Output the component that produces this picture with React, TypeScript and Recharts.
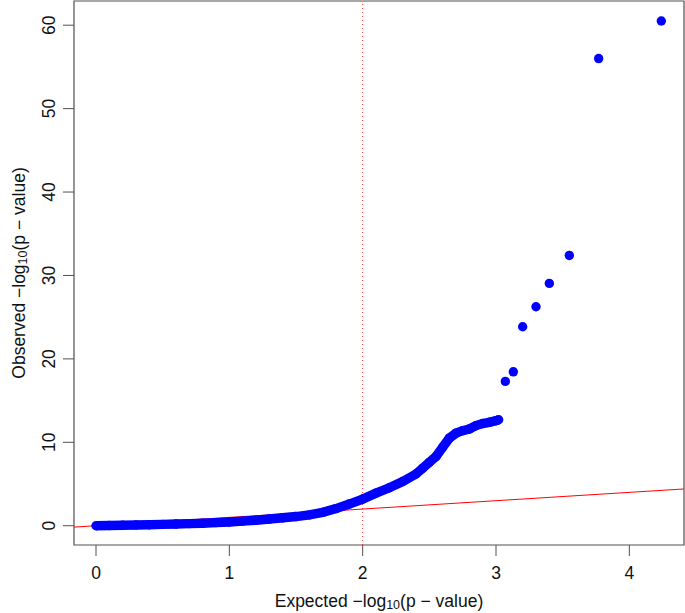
import React from 'react';
import { ScatterChart, Scatter, XAxis, YAxis, ReferenceLine, ReferenceArea } from 'recharts';

// dense run of points (overlapping dots)
const bandExpected = [0, 0.1, 0.2, 0.3, 0.4, 0.5, 0.6, 0.7, 0.8, 0.9, 1.0, 1.1, 1.2, 1.3, 1.4, 1.5, 1.6, 1.7, 1.8, 1.9, 2.0, 2.1, 2.2, 2.3, 2.4, 2.45, 2.5, 2.55, 2.6, 2.65, 2.7, 2.75, 2.8, 2.85, 2.9, 2.95, 3.0, 3.02];
const bandObserved = [0, 0.03, 0.06, 0.09, 0.12, 0.16, 0.2, 0.25, 0.3, 0.37, 0.45, 0.55, 0.66, 0.8, 0.95, 1.1, 1.3, 1.6, 2.05, 2.6, 3.2, 3.9, 4.55, 5.3, 6.2, 6.9, 7.6, 8.3, 9.4, 10.5, 11.1, 11.4, 11.6, 12.0, 12.25, 12.4, 12.6, 12.7];

// separate points in the upper tail
const tailExpected = [3.07, 3.13, 3.2, 3.3, 3.4, 3.55, 3.77, 4.24];
const tailObserved = [17.3, 18.45, 23.85, 26.25, 29.05, 32.4, 56.0, 60.5];

const xTicks = [0, 1, 2, 3, 4];
const yTicks = [0, 10, 20, 30, 40, 50, 60];

const X_DOMAIN: [number, number] = [-0.165, 4.41];
const Y_DOMAIN: [number, number] = [-2.31, 62.9];

const bandData = bandExpected.map((x, i) => ({ x, y: bandObserved[i] }));
const tailData = tailExpected.map((x, i) => ({ x, y: tailObserved[i] }));

const FONT = '"Liberation Sans", Arial, Helvetica, sans-serif';
const AXIS = '#505050';
const BLUE = '#0000ff';

const Dot = (p: any) => <circle cx={p.cx} cy={p.cy} r={4.7} fill={BLUE} />;

const XTick = (p: any) => (
  <text x={p.x} y={579} textAnchor="middle" fontSize={17.5} fontFamily={FONT} fill="#111">
    {p.payload.value}
  </text>
);

const YTick = (p: any) => (
  <text x={55} y={p.y} transform={`rotate(-90, 55, ${p.y})`} textAnchor="middle" fontSize={17.5} fontFamily={FONT} fill="#111">
    {p.payload.value}
  </text>
);

const AxisTitle = ({ x, y, rotate, word }: { x: number; y: number; rotate?: boolean; word: string }) => (
  <text x={x} y={y} transform={rotate ? `rotate(-90, ${x}, ${y})` : undefined} textAnchor="middle" fontSize={17.5} fontFamily={FONT} fill="#111">
    {word} {'\u2212'}log
    <tspan fontSize={12.5} dy={2}>10</tspan>
    <tspan dy={-2}>(p {'\u2212'} value)</tspan>
  </text>
);

export default function App() {
  return (
    <div style={{ position: 'absolute', left: 0, top: 0, width: 685, height: 613, background: '#fff' }}>
      <ScatterChart width={685} height={613} margin={{ top: 1, right: 1, bottom: 0, left: 0 }}>
        <XAxis
          type="number"
          dataKey="x"
          domain={X_DOMAIN}
          allowDataOverflow
          ticks={xTicks}
          height={68}
          tickSize={11}
          axisLine={false}
          tickLine={{ stroke: AXIS }}
          tick={<XTick />}
          label={{ content: (props: any) => <AxisTitle x={props.viewBox.x + props.viewBox.width / 2} y={607} word="Expected" /> }}
        />
        <YAxis
          type="number"
          dataKey="y"
          domain={Y_DOMAIN}
          allowDataOverflow
          ticks={yTicks}
          width={74}
          tickSize={11}
          axisLine={false}
          tickLine={{ stroke: AXIS }}
          tick={<YTick />}
          label={{ content: (props: any) => <AxisTitle x={25} y={props.viewBox.y + props.viewBox.height / 2} rotate word="Observed" /> }}
        />
        <ReferenceLine x={2} stroke="#ff3030" strokeWidth={1} strokeDasharray="1 3" />
        <Scatter data={bandData} shape={<Dot />} line={{ stroke: BLUE, strokeWidth: 9.4 }} lineJointType="linear" isAnimationActive={false} />
        <Scatter data={tailData} shape={<Dot />} isAnimationActive={false} />
        <ReferenceLine
          segment={[{ x: X_DOMAIN[0], y: X_DOMAIN[0] }, { x: X_DOMAIN[1], y: X_DOMAIN[1] }]}
          stroke="#ff0000"
          strokeWidth={1}
        />
        <ReferenceArea x1={X_DOMAIN[0]} x2={X_DOMAIN[1]} y1={Y_DOMAIN[0]} y2={Y_DOMAIN[1]} fill="none" stroke={AXIS} strokeWidth={1.2} />
      </ScatterChart>
    </div>
  );
}
